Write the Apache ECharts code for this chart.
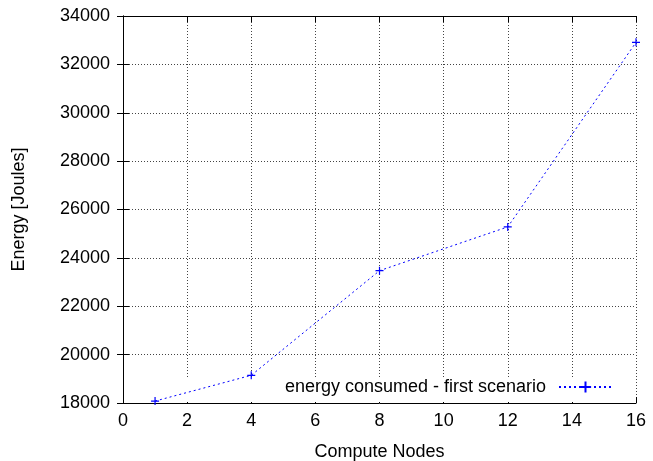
<!DOCTYPE html>
<html>
<head>
<meta charset="utf-8">
<script src="https://cdn.jsdelivr.net/npm/echarts@6/dist/echarts.min.js"></script>
<style>html,body{margin:0;padding:0;background:#fff}#c{width:653px;height:461px}</style>
</head>
<body>
<div id="c"></div>
<script>
const nodes = [1, 4, 8, 12, 16];
const energy = [18080, 19145, 23470, 25280, 32910];
const seriesName = 'energy consumed - first scenario';
const xTitle = 'Compute Nodes';
const yTitle = 'Energy [Joules]';

const font = 'Liberation Sans, Arial, sans-serif';
const chart = echarts.init(document.getElementById('c'), null, {renderer: 'canvas'});
const plus = 'path://M0,5 L10,5 M5,0 L5,10';
const gridLine = {show: true, lineStyle: {type: [1, 2], color: '#444', width: 1}};
const fmt = v => String(v);
chart.setOption({
  animation: false,
  backgroundColor: '#fff',
  grid: {left: 123, right: 17, top: 16, bottom: 58, containLabel: false, outerBoundsMode: 'none'},
  graphic: {elements: [{
    type: 'rect', z: 1, silent: true,
    shape: {x: 124, y: 378, width: 511, height: 24},
    style: {fill: '#fff'}
  }]},
  legend: {
    data: [seriesName],
    right: 40, top: 378,
    orient: 'horizontal',
    align: 'right',
    padding: 0,
    itemWidth: 53, itemHeight: 14, itemGap: 10,
    textStyle: {fontFamily: font, fontSize: 18, color: '#000', padding: [0, 8, 0, 0]}
  },
  xAxis: [{
    type: 'value', min: 0, max: 16, interval: 2,
    name: xTitle, nameLocation: 'middle', nameGap: 40,
    nameTextStyle: {fontFamily: font, fontSize: 18, color: '#000'},
    axisLine: {show: true, onZero: false, lineStyle: {color: '#000', width: 1}},
    axisTick: {show: true, inside: true, length: 6, lineStyle: {color: '#000'}},
    axisLabel: {fontFamily: font, fontSize: 18, color: '#000', margin: 9, formatter: fmt},
    splitLine: gridLine
  }, {
    type: 'value', min: 0, max: 16, interval: 2, position: 'top',
    axisLine: {show: true, lineStyle: {color: '#000', width: 1}},
    axisTick: {show: true, inside: true, length: 6, lineStyle: {color: '#000'}},
    axisLabel: {show: false}, splitLine: {show: false}
  }],
  yAxis: [{
    type: 'value', min: 18000, max: 34000, interval: 2000,
    name: yTitle, nameLocation: 'middle', nameGap: 95, nameRotate: 90,
    nameTextStyle: {fontFamily: font, fontSize: 18, color: '#000'},
    axisLine: {show: true, onZero: false, lineStyle: {color: '#000', width: 1}},
    axisTick: {show: true, inside: true, length: 6, lineStyle: {color: '#000'}},
    axisLabel: {fontFamily: font, fontSize: 18, color: '#000', margin: 13, formatter: fmt},
    splitLine: gridLine
  }, {
    type: 'value', min: 18000, max: 34000, interval: 2000, position: 'right',
    axisLine: {show: true, lineStyle: {color: '#000', width: 1}},
    axisTick: {show: true, inside: true, length: 6, lineStyle: {color: '#000'}},
    axisLabel: {show: false}, splitLine: {show: false}
  }],
  series: [{
    name: seriesName,
    type: 'line',
    data: nodes.map((n, i) => [n, energy[i]]),
    symbol: plus,
    symbolSize: 8,
    showAllSymbol: true,
    lineStyle: {color: '#0000ff', width: 1, type: [2, 3]},
    itemStyle: {color: 'rgba(0,0,0,0)', borderColor: '#0000ff', borderWidth: 1.2},
    z: 5
  }]
});
</script>
</body>
</html>
